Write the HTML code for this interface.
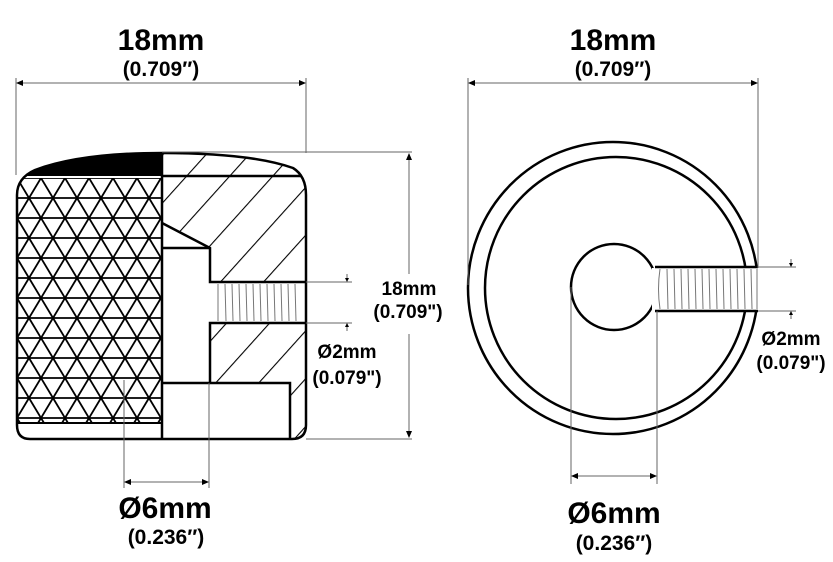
<!DOCTYPE html>
<html><head><style>
html,body{margin:0;padding:0;background:#fff;}
svg{display:block;}
text{font-family:"Liberation Sans",Arial,sans-serif;font-weight:bold;fill:#000;text-anchor:middle;}
</style></head><body>
<svg width="833" height="562" viewBox="0 0 833 562" xmlns="http://www.w3.org/2000/svg">
<defs>
  <pattern id="knurl" x="17" y="178" width="24" height="40" patternUnits="userSpaceOnUse">
    <g stroke="#000" stroke-width="1.8" fill="none">
      <line x1="-2" y1="0" x2="26" y2="0"/>
      <line x1="-2" y1="20" x2="26" y2="20"/>
      <line x1="-2" y1="40" x2="26" y2="40"/>
      <line x1="0" y1="0" x2="12" y2="20"/>
      <line x1="12" y1="20" x2="24" y2="40"/>
      <line x1="24" y1="0" x2="12" y2="20"/>
      <line x1="12" y1="20" x2="0" y2="40"/>
      <line x1="-12" y1="20" x2="0" y2="40"/>
      <line x1="36" y1="20" x2="24" y2="40"/>
      <line x1="24" y1="0" x2="36" y2="20"/>
      <line x1="0" y1="0" x2="-12" y2="20"/>
    </g>
  </pattern>
  <pattern id="hatch" width="32" height="32" patternUnits="userSpaceOnUse" patternTransform="rotate(42)">
    <line x1="0" y1="-2" x2="0" y2="34" stroke="#000" stroke-width="2.2"/>
  </pattern>
  <clipPath id="body">
    <path d="M162,153 Q250,153 293,168 Q306,176 306,195 L306,425 Q306,439 292,439 L30,439 Q17,439 17,425 L17,195 Q17,178 35,170 Q80,153 162,153 Z"/>
  </clipPath>
</defs>

<g clip-path="url(#body)">
  <rect x="17" y="178" width="145" height="245" fill="url(#knurl)"/>
  <path d="M17,176 L17,160 Q80,148 162,150 L162,176 Z" fill="#000"/>
  <rect x="162" y="150" width="150" height="295" fill="url(#hatch)"/>
  <path d="M162,223 L210,248 L210,282 L306,282 L306,323 L210,323 L210,383 L290,383 L290,445 L162,445 Z" fill="#fff"/>
  <line x1="17" y1="423" x2="162" y2="423" stroke="#000" stroke-width="2"/>
</g>
<g stroke="#000" stroke-width="2.5" fill="none">
  <path d="M162,153 Q250,153 293,168 Q306,176 306,195 L306,425 Q306,439 292,439 L30,439 Q17,439 17,425 L17,195 Q17,178 35,170 Q80,153 162,153 Z"/>
  <line x1="162" y1="153" x2="162" y2="439"/>
  <line x1="162" y1="176" x2="302" y2="176"/>
  <polyline points="162,223 210,248 210,282 306,282"/>
  <line x1="162" y1="248" x2="210" y2="248"/>
  <polyline points="306,323 210,323 210,383 290,383 290,439"/>
  <line x1="162" y1="383" x2="210" y2="383"/>
</g>
<g stroke="#777" stroke-width="1">
  <line x1="218" y1="284" x2="218" y2="321"/><line x1="225" y1="284" x2="226" y2="321"/>
  <line x1="232" y1="284" x2="233" y2="321"/><line x1="239" y1="284" x2="240" y2="321"/>
  <line x1="246" y1="284" x2="247" y2="321"/><line x1="253" y1="284" x2="254" y2="321"/>
  <line x1="260" y1="284" x2="261" y2="321"/><line x1="267" y1="284" x2="268" y2="321"/>
  <line x1="274" y1="284" x2="275" y2="321"/><line x1="281" y1="284" x2="282" y2="321"/>
  <line x1="288" y1="284" x2="289" y2="321"/><line x1="295" y1="284" x2="296" y2="321"/>
</g>

<g stroke="#666" stroke-width="1" fill="none">
  <line x1="16" y1="78" x2="16" y2="175"/>
  <line x1="306" y1="78" x2="306" y2="153"/>
  <line x1="18" y1="83" x2="304" y2="83"/>
  <line x1="162" y1="152" x2="412" y2="152"/>
  <line x1="306" y1="439" x2="412" y2="439"/>
  <line x1="409" y1="154" x2="409" y2="274"/>
  <line x1="409" y1="334" x2="409" y2="437"/>
  <line x1="306" y1="282" x2="352" y2="282"/>
  <line x1="306" y1="323" x2="352" y2="323"/>
  <line x1="347" y1="274" x2="347" y2="281"/>
  <line x1="347" y1="324" x2="347" y2="331"/>
  <line x1="124" y1="380" x2="124" y2="488"/>
  <line x1="209" y1="383" x2="209" y2="488"/>
  <line x1="126" y1="482" x2="207" y2="482"/>
</g>
<g fill="#000">
  <polygon points="16,83 23,80 23,86"/><polygon points="306,83 299,80 299,86"/>
  <polygon points="409,153 406,160 412,160"/><polygon points="409,438 406,431 412,431"/>
  <polygon points="347,282 345,278 349,278"/><polygon points="347,323 345,327 349,327"/>
  <polygon points="124,482 131,479 131,485"/><polygon points="209,482 202,479 202,485"/>
</g>
<text x="161" y="50" font-size="30">18mm</text>
<text x="161" y="76" font-size="21">(0.709″)</text>
<text x="409" y="295" font-size="19">18mm</text>
<text x="408" y="318" font-size="19">(0.709")</text>
<text x="347" y="358" font-size="19">Ø2mm</text>
<text x="347" y="384" font-size="19">(0.079")</text>
<text x="165" y="518" font-size="30">Ø6mm</text>
<text x="166" y="544" font-size="21">(0.236″)</text>

<g stroke="#000" stroke-width="2.5" fill="none">
  <ellipse cx="613" cy="288" rx="145" ry="146"/>
  <circle cx="616" cy="288" r="131"/>
</g>
<rect x="657" y="268" width="103" height="42" fill="#fff"/>
<circle cx="614" cy="287" r="43" fill="#fff" stroke="#000" stroke-width="2.5"/>
<rect x="652" y="268" width="10" height="42" fill="#fff"/>
<g stroke="#000" stroke-width="2.5">
  <line x1="655" y1="267" x2="758" y2="267"/>
  <line x1="655" y1="311" x2="758" y2="311"/>
</g>
<g stroke="#777" stroke-width="1">
  <path d="M660,269 Q657,289 660,309" fill="none"/>
  <line x1="667" y1="269" x2="668" y2="309"/><line x1="674" y1="269" x2="675" y2="309"/>
  <line x1="681" y1="269" x2="682" y2="309"/><line x1="688" y1="269" x2="689" y2="309"/>
  <line x1="695" y1="269" x2="696" y2="309"/><line x1="702" y1="269" x2="703" y2="309"/>
  <line x1="709" y1="269" x2="710" y2="309"/><line x1="716" y1="269" x2="717" y2="309"/>
  <line x1="723" y1="269" x2="724" y2="309"/><line x1="730" y1="269" x2="731" y2="309"/>
  <line x1="737" y1="269" x2="738" y2="309"/><line x1="744" y1="269" x2="745" y2="309"/>
  <line x1="751" y1="269" x2="752" y2="309"/><line x1="757" y1="269" x2="757" y2="309"/>
</g>
<g stroke="#666" stroke-width="1" fill="none">
  <line x1="468" y1="78" x2="468" y2="285"/>
  <line x1="758" y1="78" x2="758" y2="268"/>
  <line x1="470" y1="83" x2="756" y2="83"/>
  <line x1="758" y1="267" x2="796" y2="267"/>
  <line x1="758" y1="311" x2="796" y2="311"/>
  <line x1="791" y1="259" x2="791" y2="266"/>
  <line x1="791" y1="312" x2="791" y2="319"/>
  <line x1="571" y1="287" x2="571" y2="484"/>
  <line x1="657" y1="311" x2="657" y2="484"/>
  <line x1="573" y1="476" x2="655" y2="476"/>
</g>
<g fill="#000">
  <polygon points="468,83 475,80 475,86"/><polygon points="758,83 751,80 751,86"/>
  <polygon points="791,267 789,263 793,263"/><polygon points="791,311 789,315 793,315"/>
  <polygon points="571,476 578,473 578,479"/><polygon points="657,476 650,473 650,479"/>
</g>
<text x="613" y="50" font-size="30">18mm</text>
<text x="613" y="76" font-size="21">(0.709″)</text>
<text x="791" y="345" font-size="19">Ø2mm</text>
<text x="791" y="369" font-size="19">(0.079")</text>
<text x="614" y="523" font-size="30">Ø6mm</text>
<text x="614" y="550" font-size="21">(0.236″)</text>
</svg>
</body></html>
